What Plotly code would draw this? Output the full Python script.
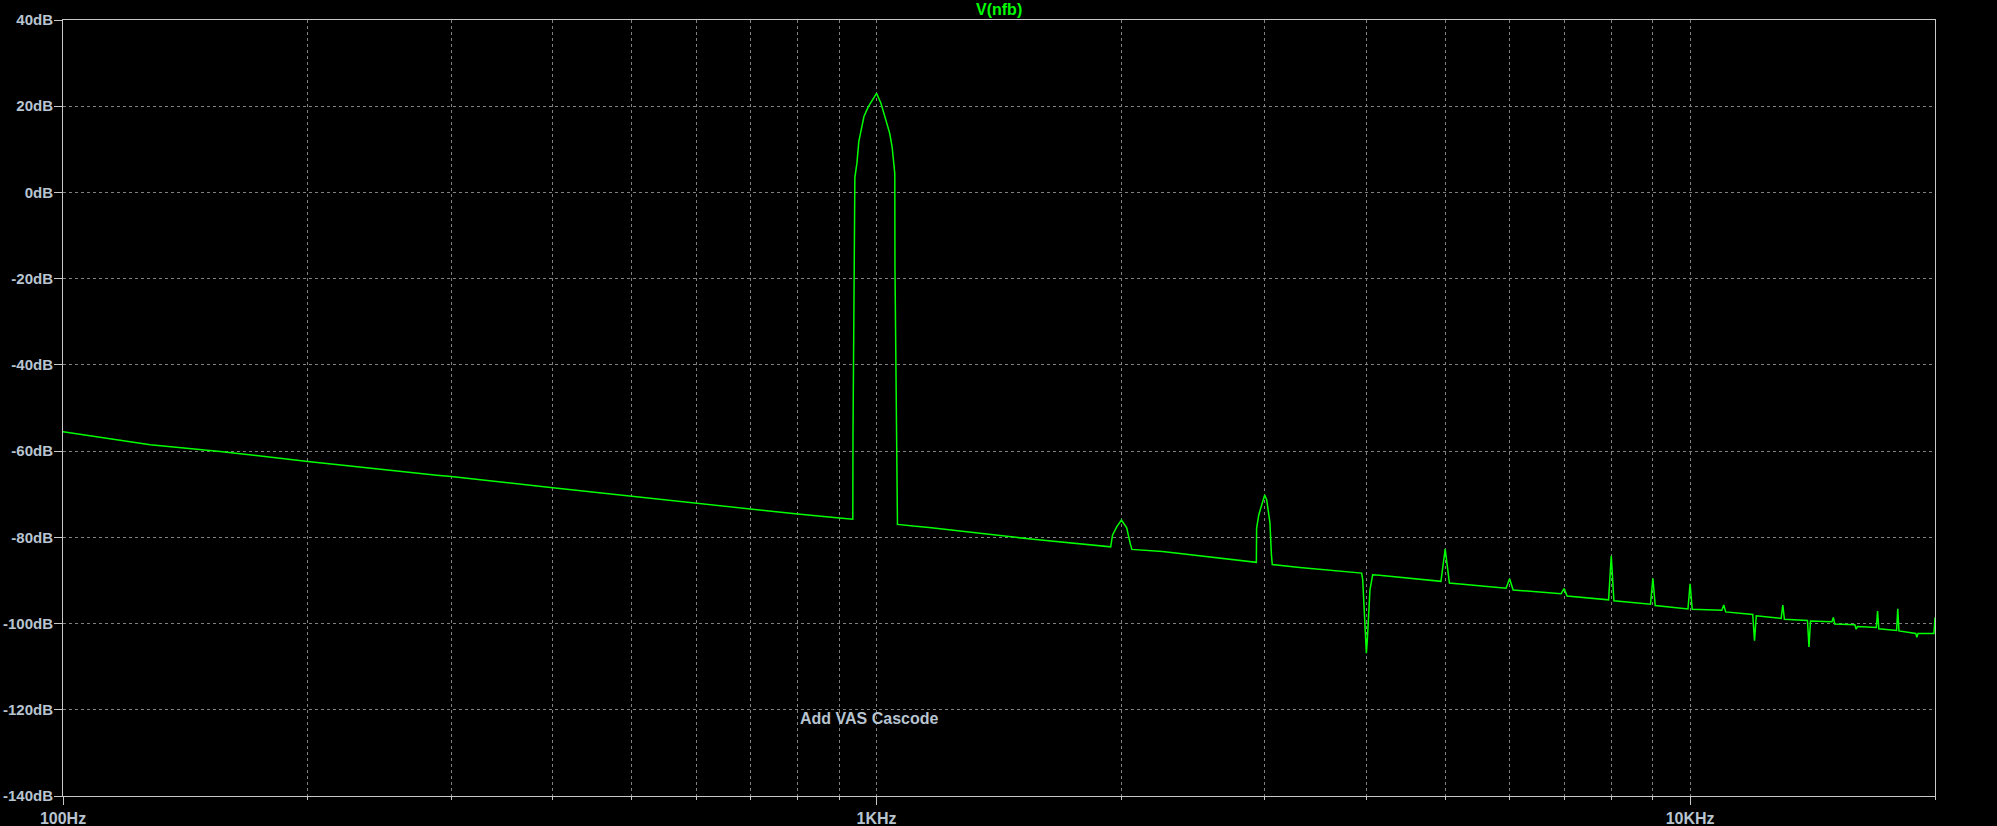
import plotly.graph_objects as go
import math

# ---- data ----
floor_f = [100, 128, 156, 200, 288, 300, 400, 500, 600, 700, 800, 900, 935,
           1061, 1110, 1160, 1547, 1777, 1940, 2060, 2246, 2930, 3065, 3313, 3900, 3947, 4072, 4150,
           4940, 5060, 5940, 6060, 6940, 7060, 7940, 8060, 8940, 9060, 9940, 10060,
           10940, 11060, 11940, 12060, 12940, 13060, 13940, 14060, 14940, 15060,
           15940, 16060, 16940, 17060, 17940, 18060, 18940, 19060, 19940]
floor_db = [-55.5, -58.5, -60.1, -62.4, -65.6, -65.9, -68.5, -70.5, -72.0, -73.4, -74.6, -75.5, -75.8,
            -77.0, -77.4, -77.7, -80.4, -81.4, -82.2, -82.8, -83.3, -85.8, -86.3, -87.0, -88.2, -88.3, -88.7, -88.8,
            -90.2, -90.6, -91.8, -92.2, -93.1, -93.6, -94.5, -94.7, -95.5, -95.8, -96.6, -96.7,
            -96.9, -97.3, -97.9, -98.2, -98.8, -99.0, -99.3, -99.4, -99.6, -100.1,
            -100.3, -100.7, -100.9, -101.2, -101.6, -101.7, -102.3, -102.3, -102.3]

fund_f = [935.5, 938, 940.5, 946, 951, 957.5, 965, 977, 988.7, 1000,
          1012.5, 1026.6, 1038, 1045, 1050, 1053, 1053.5, 1058]
fund_db = [-56.3, -17.4, 3.5, 6.8, 11.8, 14.5, 17.6, 19.9, 21.4, 23.0,
           20.7, 16.8, 13.7, 10.6, 7.5, 4.4, -17.0, -56.9]

h2_f = [1950, 1974, 2000, 2030, 2050]
h2_db = [-79.5, -77.5, -76.0, -77.8, -81.4]

h3_f = [2932, 2950, 2970, 2984, 3000, 3017, 3030, 3045, 3057]
h3_db = [-77.9, -74.8, -72.9, -71.3, -70.2, -71.3, -74.4, -76.7, -83.9]

h4_f = [3959, 3977, 4000, 4011, 4023, 4041]
h4_db = [-89.8, -96.9, -106.9, -103.8, -98.4, -92.2]

spur_f = [5000, 6000, 7000, 8000, 9000, 10000, 11000, 12000, 13000, 14000,
          15000, 16000, 17000, 18000, 19000, 20000]
spur_db = [-82.7, -89.6, -91.9, -84.3, -89.5, -90.8, -95.7, -104.0, -95.7, -105.4,
           -98.6, -101.3, -97.1, -96.6, -103.2, -98.6]

y_ticks = [40, 20, 0, -20, -40, -60, -80, -100, -120, -140]
y_labels = ["40dB", "20dB", "0dB", "-20dB", "-40dB", "-60dB", "-80dB", "-100dB", "-120dB", "-140dB"]
x_ticks = [100, 1000, 10000]
x_labels = ["100Hz", "1KHz", "10KHz"]
x_minor = [200, 300, 400, 500, 600, 700, 800, 900,
           2000, 3000, 4000, 5000, 6000, 7000, 8000, 9000, 20000]

# ---- assemble trace ----
pts = list(zip(floor_f, floor_db)) + list(zip(fund_f, fund_db)) + list(zip(h2_f, h2_db)) \
    + list(zip(h3_f, h3_db)) + list(zip(h4_f, h4_db)) + list(zip(spur_f, spur_db))
pts.sort(key=lambda p: p[0])
fx = [p[0] for p in pts]
fy = [p[1] for p in pts]

TXT = "#b8c4d0"
GRID = "#808080"
AXL = "#c8c8c8"
FONT = "Liberation Sans, Arial, sans-serif"

fig = go.Figure()
fig.add_trace(go.Scatter(x=fx, y=fy, mode="lines",
                         line=dict(color="#00ff00", width=1.5), showlegend=False,
                         hoverinfo="skip"))

fig.update_layout(
    width=1997, height=826,
    paper_bgcolor="black", plot_bgcolor="black",
    margin=dict(l=63, r=62, t=20, b=30, autoexpand=False),
    font=dict(family=FONT, size=16, color=TXT, weight="bold"),
    showlegend=False,
)
fig.update_xaxes(
    type="log", range=[2, math.log10(20000)], automargin=False,
    tickvals=x_ticks, ticktext=x_labels,
    ticks="outside", ticklen=8, tickcolor=AXL, tickwidth=1,
    showline=True, linecolor=AXL, linewidth=1, mirror=True,
    showgrid=True, gridcolor=GRID, griddash="3px,3px", gridwidth=1,
    tickfont=dict(family=FONT, size=16, color=TXT, weight="bold"),
    minor=dict(tickvals=x_minor, ticks="outside", ticklen=3, tickcolor=AXL,
               showgrid=True, gridcolor=GRID, griddash="3px,3px", gridwidth=1),
    zeroline=False,
)
fig.update_yaxes(
    range=[-140, 40], automargin=False, tickvals=y_ticks, ticktext=y_labels,
    ticks="outside", ticklen=8, tickcolor=AXL, tickwidth=1,
    showline=True, linecolor=AXL, linewidth=1, mirror=True,
    showgrid=True, gridcolor=GRID, griddash="3px,3px", gridwidth=1,
    tickfont=dict(family=FONT, size=15, color=TXT, weight="bold"),
    ticklabelstandoff=-2,
    zeroline=False,
)

fig.add_annotation(text="V(nfb)", xref="paper", yref="paper", x=0.5, y=1,
                   xanchor="center", yanchor="bottom", showarrow=False,
                   font=dict(family=FONT, size=16, color="#00ff00", weight="bold"))
fig.add_annotation(text="Add VAS Cascode", xref="x", yref="y",
                   x=math.log10(800), y=-122, xanchor="left", yanchor="middle",
                   showarrow=False,
                   font=dict(family=FONT, size=16, color=TXT, weight="bold"))

fig.write_html("out.html", config={"displayModeBar": False},
               post_script="document.body.style.margin='0';document.body.style.overflow='hidden';document.body.style.background='black';")
